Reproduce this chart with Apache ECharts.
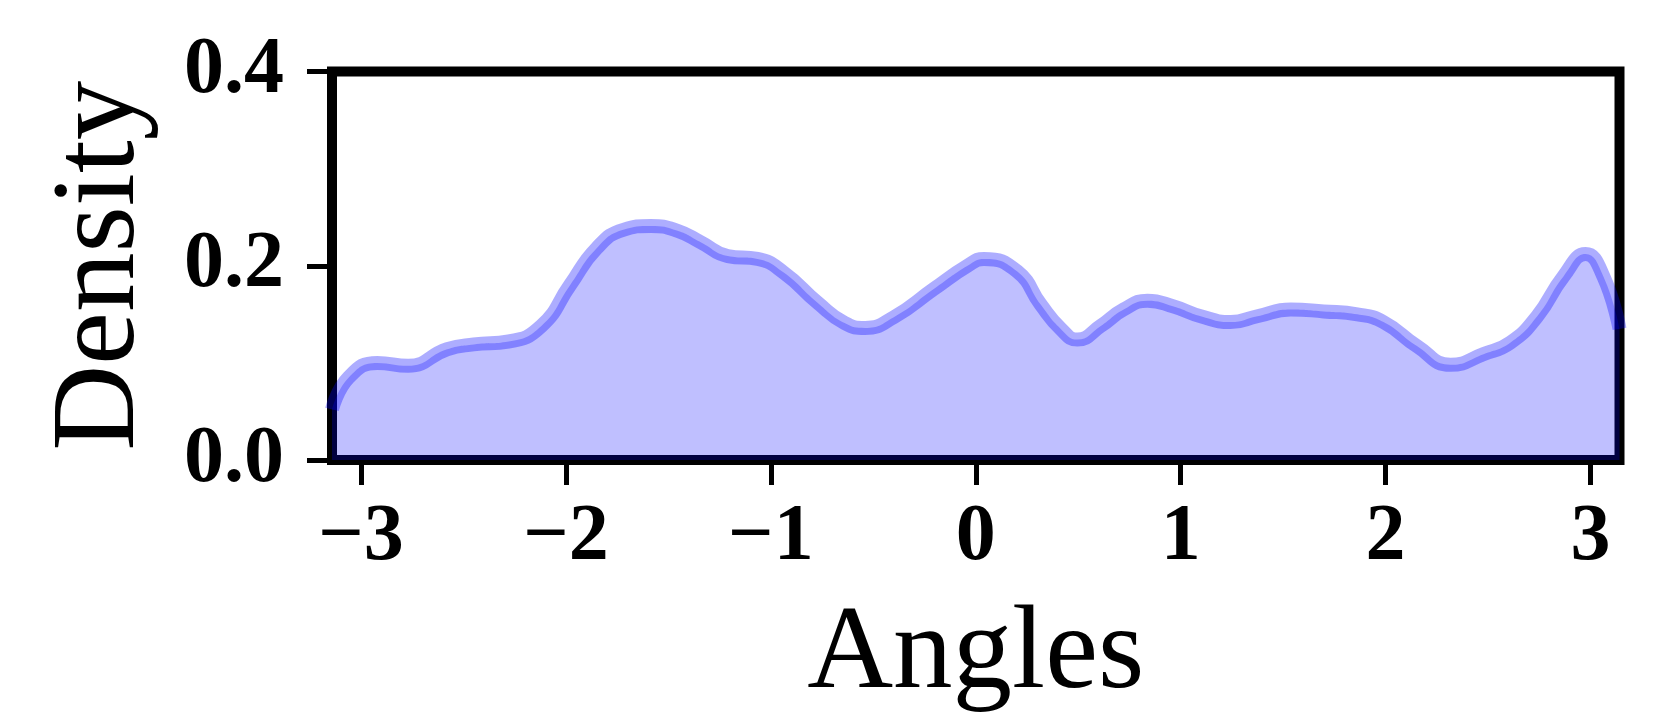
<!DOCTYPE html>
<html>
<head>
<meta charset="utf-8">
<script src="https://cdn.jsdelivr.net/npm/echarts@6/dist/echarts.min.js"></script>
<style>
html,body{margin:0;padding:0;background:#fff;}
#chart{width:1661px;height:720px;}
</style>
</head>
<body>
<div id="chart"></div>
<script>
// Data (angle in radians, KDE density)
const angles = [-3.1416, -3.06, -2.92, -2.77, -2.58, -2.45, -2.28, -2.12, -1.98, -1.85, -1.72, -1.585, -1.455, -1.34, -1.21, -1.065, -0.937, -0.772, -0.64, -0.54, -0.40, -0.205, -0.04, 0.04, 0.203, 0.317, 0.415, 0.496, 0.61, 0.722, 0.838, 0.966, 1.098, 1.244, 1.374, 1.537, 1.698, 1.862, 1.99, 2.155, 2.317, 2.478, 2.61, 2.74, 2.868, 2.976, 3.063, 3.1416];
const density = [0.052, 0.085, 0.100, 0.097, 0.114, 0.119, 0.122, 0.138, 0.180, 0.218, 0.237, 0.241, 0.236, 0.224, 0.210, 0.207, 0.193, 0.162, 0.141, 0.136, 0.147, 0.176, 0.200, 0.207, 0.194, 0.160, 0.135, 0.124, 0.138, 0.155, 0.164, 0.158, 0.148, 0.142, 0.148, 0.155, 0.153, 0.150, 0.142, 0.117, 0.098, 0.109, 0.121, 0.148, 0.189, 0.212, 0.189, 0.135];
const xTicks = [-3, -2, -1, 0, 1, 2, 3];
const xName = 'Angles';
const yName = 'Density';

const points = angles.map((a, i) => [a, density[i]]);
const serif = 'Liberation Serif, Times New Roman, serif';

const chart = echarts.init(document.getElementById('chart'));
chart.setOption({
  animation: false,
  backgroundColor: '#ffffff',
  grid: {
    left: 332, right: 41.5, top: 71.5, bottom: 259.5,
    show: true, borderColor: '#000', borderWidth: 10, backgroundColor: 'transparent'
  },
  xAxis: {
    type: 'value',
    min: -Math.PI, max: Math.PI,
    name: xName,
    nameLocation: 'middle',
    nameGap: 136,
    nameTextStyle: { fontFamily: serif, fontSize: 119, color: '#000' },
    axisLine: { show: false, onZero: false },
    splitLine: { show: false },
    axisTick: { show: true, customValues: xTicks, length: 25, lineStyle: { color: '#000', width: 5 } },
    axisLabel: {
      customValues: xTicks,
      margin: 38,
      fontFamily: serif, fontWeight: 'bold', fontSize: 80, color: '#000',
      formatter: v => (v < 0 ? '\u2212' + Math.abs(v) : String(v))
    }
  },
  yAxis: {
    type: 'value',
    min: 0, max: 0.4, interval: 0.2,
    name: yName,
    nameLocation: 'middle',
    nameGap: 171,
    nameTextStyle: { fontFamily: serif, fontSize: 119, color: '#000' },
    axisLine: { show: false, onZero: false },
    splitLine: { show: false },
    axisTick: { show: true, length: 25, lineStyle: { color: '#000', width: 5 } },
    axisLabel: {
      margin: 48,
      fontFamily: serif, fontWeight: 'bold', fontSize: 80, color: '#000',
      formatter: v => v.toFixed(1)
    }
  },
  series: [{
    type: 'line',
    data: points,
    smooth: 0.5,
    showSymbol: false,
    clip: true,
    lineStyle: { color: 'rgba(0,0,255,0.32)', width: 14 },
    areaStyle: { color: 'rgba(0,0,255,0.25)', opacity: 1, origin: 'start' },
    z: 1
  }]
});
</script>
</body>
</html>
